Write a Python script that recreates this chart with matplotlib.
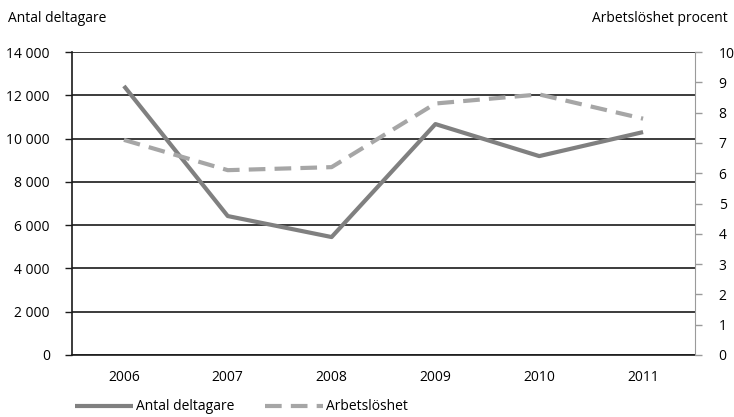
import matplotlib.pyplot as plt
from matplotlib.ticker import FuncFormatter

plt.rcParams['font.family'] = ['Open Sans', 'DejaVu Sans']

years = ['2006', '2007', '2008', '2009', '2010', '2011']
deltagare = [12430, 6420, 5450, 10670, 9190, 10300]
arbetsloshet = [7.1, 6.1, 6.2, 8.3, 8.6, 7.8]

fig = plt.figure(figsize=(7.34, 4.17), dpi=100)
ax = fig.add_axes([72/734, 1-355/417, (695-72)/734, (355-52)/417])
ax2 = ax.twinx()

x = range(len(years))
ax.set_ylim(0, 14000)
ax.set_yticks(range(0, 14001, 2000))
ax.yaxis.set_major_formatter(FuncFormatter(lambda v, p: f"{int(v):,}".replace(",", " ")))
ax.grid(axis='y', color='#1a1a1a', linewidth=1.2)
ax.set_axisbelow(True)
ax.set_xlim(-0.5, 5.5)
ax.set_xticks(list(x))
ax.set_xticklabels(years)

l1, = ax.plot(x, deltagare, color='#808080', linewidth=3, solid_capstyle='butt', label='Antal deltagare', zorder=3)
l2, = ax2.plot(x, arbetsloshet, color='#a6a6a6', linewidth=3, dashes=(4, 2.2), label='Arbetslöshet', zorder=3)
ax2.set_ylim(0, 10)
ax2.set_yticks(range(0, 11))

ax.spines['top'].set_visible(False)
ax2.spines['top'].set_visible(False)
ax.spines['right'].set_visible(False)
ax2.spines['left'].set_visible(False)
ax2.spines['bottom'].set_visible(False)
ax2.spines['right'].set_color('#9a9a9a')
ax.spines['left'].set_color('#1a1a1a')
ax.spines['bottom'].set_color('#1a1a1a')
ax.spines['left'].set_linewidth(1.2)
ax.spines['bottom'].set_linewidth(1.2)

ax.tick_params(axis='y', length=5, width=1, color='#1a1a1a', labelsize=10, pad=11)
ax.tick_params(axis='x', length=0, labelsize=10, pad=11)
ax2.tick_params(axis='y', length=5, width=1, color='#9a9a9a', labelsize=10, pad=12)

fig.text(8/734, 1-18/417, 'Antal deltagare', fontsize=10, va='center', ha='left')
fig.text(728/734, 1-18/417, 'Arbetslöshet procent', fontsize=10, va='center', ha='right')

fig.legend(handles=[l1, l2], loc='center left', bbox_to_anchor=(75/734, 1-407/417),
           ncol=2, frameon=False, fontsize=10, handlelength=4.2, handletextpad=0.2,
           columnspacing=2.2, borderaxespad=0, borderpad=0)

fig.savefig('out.png', dpi=100)
